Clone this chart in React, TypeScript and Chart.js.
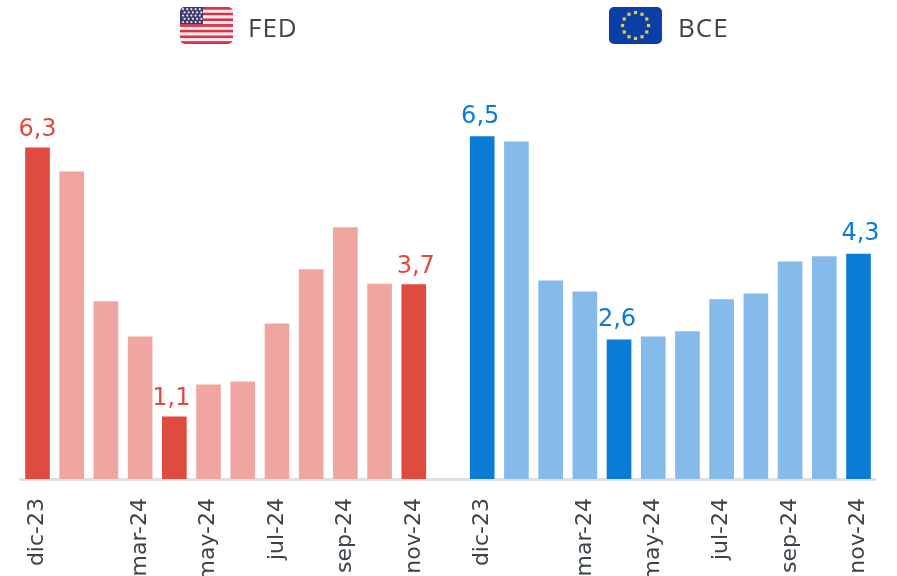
import React, { useEffect, useRef } from "react";
import { Chart, registerables } from "chart.js";

Chart.register(...registerables);

const months = ["dic-23", "ene-24", "feb-24", "mar-24", "abr-24", "may-24", "jun-24", "jul-24", "ago-24", "sep-24", "oct-24", "nov-24"];
const fedValues = [6.3, 5.84, 3.33, 2.65, 1.1, 1.72, 1.78, 2.9, 3.95, 4.76, 3.67, 3.66];
const bceValues = [6.52, 6.42, 3.73, 3.52, 2.59, 2.65, 2.75, 3.37, 3.48, 4.1, 4.2, 4.25];
const shownMonths = ["dic-23", "mar-24", "may-24", "jul-24", "sep-24", "nov-24"];
const fedHighlights = [0, 4, 11];
const bceHighlights = [0, 4, 11];

const RED = "#E04B40";
const RED_LIGHT = "#F0A6A0";
const BLUE = "#0A7CD6";
const BLUE_LIGHT = "#84BBEA";
const FONT = '"DejaVu Sans", sans-serif';

const labels = [...months, "", ...months];
const values: (number | null)[] = [...fedValues, null, ...bceValues];
const barColors = [
  ...fedValues.map((_, i) => (fedHighlights.includes(i) ? RED : RED_LIGHT)),
  "transparent",
  ...bceValues.map((_, i) => (bceHighlights.includes(i) ? BLUE : BLUE_LIGHT)),
];

const valueLabels = {
  id: "valueLabels",
  afterDatasetsDraw(chart: any) {
    const meta = chart.getDatasetMeta(0);
    const ctx = chart.ctx;
    ctx.save();
    ctx.font = `24px ${FONT}`;
    ctx.textAlign = "center";
    ctx.textBaseline = "alphabetic";
    meta.data.forEach((bar: any, i: number) => {
      const isFed = i < 12;
      const idx = isFed ? i : i - 13;
      const marks = isFed ? fedHighlights : bceHighlights;
      if (i === 12 || !marks.includes(idx)) return;
      ctx.fillStyle = isFed ? RED : BLUE;
      const dx = isFed ? (idx === 11 ? 2 : idx === 4 ? -3 : 0) : idx === 11 ? 2 : -2;
      const dy = isFed ? 12 : 14;
      ctx.fillText(String((values[i] as number).toFixed(1)).replace(".", ","), bar.x + dx, bar.y - dy);
    });
    ctx.restore();
  },
};

function UsFlag() {
  const stripes = Array.from({ length: 13 }, (_, i) => i);
  const stars: [number, number][] = [];
  for (let r = 0; r < 5; r++) for (let c = 0; c < 5; c++) stars.push([3 + c * 4.2 + (r % 2 ? 1.5 : 0), 2.2 + r * 3.2]);
  return (
    <svg width={53} height={37} viewBox="0 0 53 37" style={{ position: "absolute", left: 180, top: 7 }}>
      <defs>
        <clipPath id="usclip"><rect width={53} height={37} rx={5} /></clipPath>
      </defs>
      <g clipPath="url(#usclip)">
        {stripes.map((i) => (
          <rect key={i} x={0} y={(i * 37) / 13} width={53} height={37 / 13} fill={i % 2 ? "#F7ECEC" : "#D8324A"} />
        ))}
        <rect width={23} height={17} fill="#3C3B6E" />
        {stars.map(([x, y], i) => (
          <circle key={i} cx={x} cy={y} r={1.1} fill="#E6E6F0" />
        ))}
      </g>
    </svg>
  );
}

function EuFlag() {
  const stars = Array.from({ length: 12 }, (_, i) => (i * Math.PI) / 6);
  return (
    <svg width={53} height={37} viewBox="0 0 53 37" style={{ position: "absolute", left: 609, top: 7 }}>
      <rect width={53} height={37} rx={5} fill="#0B3EA6" />
      {stars.map((a, i) => (
        <rect key={i} x={26.5 + 13 * Math.sin(a) - 1.6} y={18.5 - 13 * Math.cos(a) - 1.6} width={3.2} height={3.2} fill="#F5C92E" />
      ))}
    </svg>
  );
}

const headerStyle: React.CSSProperties = {
  position: "absolute",
  top: 13,
  fontFamily: '"Open Sans", sans-serif',
  fontSize: 26,
  letterSpacing: 1,
  lineHeight: "28px",
  color: "#3C4449",
};

export default function App() {
  const ref = useRef<HTMLCanvasElement>(null);
  useEffect(() => {
    const chart = new Chart(ref.current!, {
      type: "bar",
      data: {
        labels,
        datasets: [{ data: values, backgroundColor: barColors, barThickness: 24, base: -0.1 } as any],
      },
      options: {
        animation: false,
        responsive: false,
        layout: { padding: { left: 20.4, right: 21.4, top: 60, bottom: 0 } },
        plugins: { legend: { display: false }, tooltip: { enabled: false } },
        scales: {
          x: {
            offset: true,
            afterFit: (s: any) => {
              s.height = 97;
              s.paddingLeft = 0;
              s.paddingRight = 0;
            },
            grid: { display: false, drawTicks: false },
            border: { color: "#DCE0EA", width: 3 },
            ticks: {
              autoSkip: false,
              maxRotation: 90,
              minRotation: 90,
              padding: 19,
              color: "#3C4449",
              font: { family: FONT, size: 22 },
              callback(this: any, v: any) {
                const l = labels[v as number];
                return shownMonths.includes(l) ? l : "";
              },
            },
          },
          y: { display: false, min: -0.1, max: 8 },
        },
      },
      plugins: [valueLabels],
    });
    return () => chart.destroy();
  }, []);
  return (
    <div style={{ position: "absolute", left: 0, top: 0, width: 897, height: 576, overflow: "hidden", background: "#fff" }}>
      <canvas ref={ref} width={897} height={576} style={{ position: "absolute", left: 0, top: 0 }} />
      <UsFlag />
      <div style={{ ...headerStyle, left: 248 }}>FED</div>
      <EuFlag />
      <div style={{ ...headerStyle, left: 678 }}>BCE</div>
    </div>
  );
}
